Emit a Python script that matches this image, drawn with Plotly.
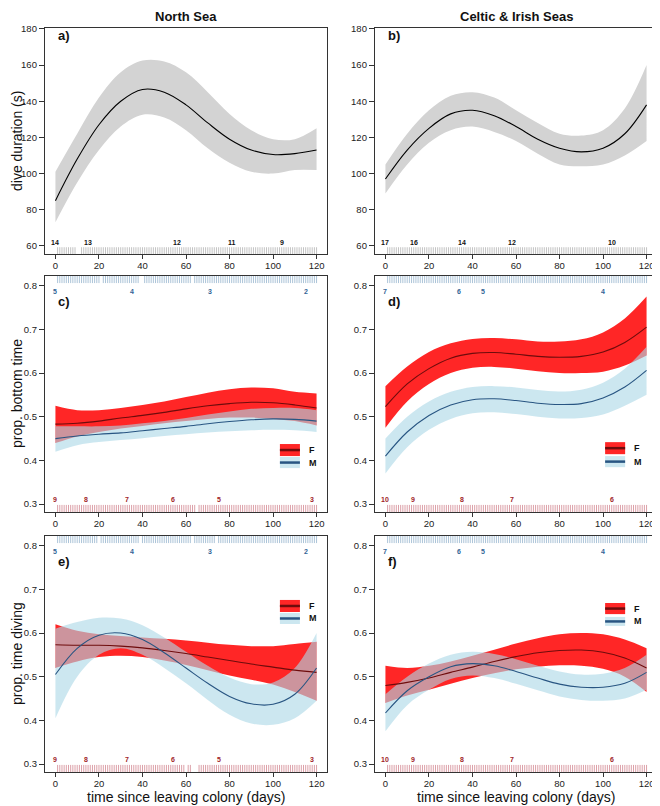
import plotly.graph_objects as go

# ---------------- data ----------------
days = [0, 10, 20, 30, 40, 50, 60, 70, 80, 90, 100, 110, 120]

# a) North Sea dive duration
ns_dur_fit = [85, 108, 127, 140, 146.5, 145, 138, 128, 119, 113, 110.5, 111, 113]
ns_dur_hi = [101, 122, 142, 156, 162.5, 162, 156, 145, 133, 124, 119, 119, 125]
ns_dur_lo = [73, 95, 113, 126, 132.5, 131, 124, 114, 106, 101, 100, 102, 102]
# b) Celtic & Irish Seas dive duration
ci_dur_fit = [97, 113, 125, 133, 135, 132, 126, 119, 114, 112, 114, 122, 138]
ci_dur_hi = [105, 122, 135, 143, 145, 142, 135, 128, 122, 121, 124, 136, 160]
ci_dur_lo = [89, 105, 117, 124, 126, 123, 118, 111, 105, 104, 105, 110, 118]

# c) North Sea prop. bottom time
ns_bt_f_fit = [0.483, 0.485, 0.49, 0.497, 0.503, 0.51, 0.518, 0.525, 0.53, 0.533, 0.532, 0.527, 0.52]
ns_bt_f_hi = [0.525, 0.515, 0.515, 0.52, 0.527, 0.535, 0.545, 0.555, 0.563, 0.567, 0.565, 0.557, 0.553]
ns_bt_f_lo = [0.44, 0.455, 0.465, 0.473, 0.479, 0.485, 0.49, 0.495, 0.498, 0.498, 0.495, 0.49, 0.48]
ns_bt_m_fit = [0.45, 0.456, 0.46, 0.463, 0.468, 0.473, 0.478, 0.484, 0.489, 0.493, 0.495, 0.494, 0.49]
ns_bt_m_hi = [0.478, 0.478, 0.478, 0.48, 0.485, 0.49, 0.497, 0.505, 0.512, 0.518, 0.52, 0.52, 0.515]
ns_bt_m_lo = [0.42, 0.435, 0.442, 0.447, 0.451, 0.456, 0.46, 0.464, 0.467, 0.469, 0.47, 0.469, 0.465]

# d) Celtic & Irish Seas prop. bottom time
ci_bt_f_fit = [0.523, 0.575, 0.61, 0.634, 0.645, 0.647, 0.643, 0.638, 0.636, 0.638, 0.648, 0.67, 0.705]
ci_bt_f_hi = [0.57, 0.615, 0.648, 0.668, 0.678, 0.68, 0.677, 0.672, 0.672, 0.677, 0.693, 0.725, 0.775]
ci_bt_f_lo = [0.475, 0.535, 0.575, 0.6, 0.612, 0.614, 0.61, 0.604, 0.6, 0.6, 0.603, 0.617, 0.64]
ci_bt_m_fit = [0.41, 0.465, 0.503, 0.527, 0.539, 0.541, 0.537, 0.531, 0.528, 0.53, 0.543, 0.568, 0.606]
ci_bt_m_hi = [0.45, 0.5, 0.535, 0.557, 0.568, 0.57, 0.567, 0.561, 0.558, 0.562, 0.578, 0.61, 0.66]
ci_bt_m_lo = [0.37, 0.43, 0.47, 0.495, 0.508, 0.51, 0.506, 0.5, 0.496, 0.497, 0.505, 0.525, 0.55]

# e) North Sea prop. time diving
ns_td_f_fit = [0.573, 0.572, 0.572, 0.57, 0.566, 0.56, 0.553, 0.545, 0.537, 0.529, 0.522, 0.515, 0.51]
ns_td_f_hi = [0.62, 0.605, 0.597, 0.593, 0.59, 0.587, 0.583, 0.578, 0.573, 0.57, 0.57, 0.575, 0.58]
ns_td_f_lo = [0.52, 0.535, 0.545, 0.548, 0.545, 0.537, 0.527, 0.515, 0.503, 0.493, 0.482, 0.465, 0.445]
ns_td_m_fit = [0.505, 0.565, 0.595, 0.6, 0.585, 0.555, 0.52, 0.485, 0.455, 0.438, 0.437, 0.46, 0.52]
ns_td_m_hi = [0.61, 0.625, 0.635, 0.633, 0.618, 0.59, 0.557, 0.525, 0.498, 0.483, 0.487, 0.52, 0.6]
ns_td_m_lo = [0.405, 0.5, 0.55, 0.565, 0.55, 0.52, 0.485, 0.447, 0.413, 0.393, 0.39, 0.405, 0.445]

# f) Celtic & Irish Seas prop. time diving
ci_td_f_fit = [0.48, 0.487, 0.497, 0.51, 0.522, 0.535, 0.546, 0.555, 0.56, 0.561, 0.556, 0.543, 0.52]
ci_td_f_hi = [0.525, 0.52, 0.525, 0.535, 0.548, 0.562, 0.576, 0.588, 0.597, 0.6, 0.597, 0.585, 0.565]
ci_td_f_lo = [0.44, 0.457, 0.47, 0.484, 0.497, 0.508, 0.517, 0.523, 0.526, 0.525, 0.518, 0.5, 0.465]
ci_td_m_fit = [0.417, 0.468, 0.5, 0.523, 0.53, 0.525, 0.512, 0.497, 0.483, 0.476, 0.476, 0.485, 0.51]
ci_td_m_hi = [0.46, 0.5, 0.53, 0.55, 0.557, 0.552, 0.54, 0.525, 0.512, 0.505, 0.507, 0.52, 0.55]
ci_td_m_lo = [0.375, 0.435, 0.47, 0.495, 0.503, 0.497, 0.484, 0.469, 0.455, 0.447, 0.445, 0.45, 0.47]

# rug: spans of days with data (first, last)
ns_dive_spans = [(1, 9), (12, 120)]
ci_dive_spans = [(1, 120)]
ns_m_bt_spans = [(1, 20), (22, 38), (41, 62), (64, 120)]
ns_f_bt_spans = [(1, 64), (66, 120)]
ns_m_td_spans = [(1, 19), (21, 38), (40, 62), (64, 73), (75, 120)]
ns_f_td_spans = [(1, 59), (61, 62), (66, 120)]
ci_m_spans = [(1, 120)]
ci_f_spans = [(1, 120)]

# sample sizes along the rugs
ns_dive_n_x = [0, 15, 56, 81, 104]
ns_dive_n = [14, 13, 12, 11, 9]
ci_dive_n_x = [0, 13, 35, 58, 104]
ci_dive_n = [17, 16, 14, 12, 10]
ns_m_n_x = [0, 35, 71, 115]
ns_m_n = [5, 4, 3, 2]
ns_f_n_x = [0, 14, 33, 54, 75, 118]
ns_f_n = [9, 8, 7, 6, 5, 3]
ci_m_n_x = [0, 34, 45, 100]
ci_m_n = [7, 6, 5, 4]
ci_f_n_x = [0, 12.6, 35, 58, 104]
ci_f_n = [10, 9, 8, 7, 6]

x_ticks = [0, 20, 40, 60, 80, 100, 120]
dur_ticks = [60, 80, 100, 120, 140, 160, 180]
prop_ticks = [0.3, 0.4, 0.5, 0.6, 0.7, 0.8]

# ---------------- styles / geometry ----------------
FONT = "Liberation Sans, Arial, sans-serif"
# the page places the figure 8px in from its top-left corner
OFF = 8
W, H = 660 - OFF, 806 - OFF


def px(x):
    return (x - OFF) / W


def py(y):
    return 1 - (y - OFF) / H


XR = [-4.8, 124.8]
DUR_R = [55.5, 180.5]
PROP_R = [0.282, 0.822]
GRAY_BAND = "rgb(211,211,211)"
RED_BAND = "rgb(255,38,38)"
BLUE_BAND = "rgba(173,216,230,0.62)"
F_LINE = "rgb(110,12,12)"
M_LINE = "rgb(40,85,130)"
GRAY_RUG = "rgb(195,195,195)"
BLUE_RUG = "rgb(172,196,216)"
RED_RUG = "rgb(220,160,168)"
BLUE_TXT = "rgb(50,100,150)"
RED_TXT = "rgb(160,35,40)"

fig = go.Figure()

XD = [[px(45), px(327)], [px(375), px(657)]]
YD = [[py(254), py(28)], [py(512), py(276)], [py(772), py(536)]]

panels = ["a)", "b)", "c)", "d)", "e)", "f)"]


def ax_names(i):
    s = "" if i == 1 else str(i)
    return "x" + s, "y" + s


def band(i, lo, hi, color):
    xa, ya = ax_names(i)
    fig.add_trace(go.Scatter(x=days, y=lo, mode="lines", line=dict(width=0, shape="spline", color=color),
                             xaxis=xa, yaxis=ya, showlegend=False, hoverinfo="skip"))
    fig.add_trace(go.Scatter(x=days, y=hi, mode="lines", line=dict(width=0, shape="spline", color=color),
                             fill="tonexty", fillcolor=color, xaxis=xa, yaxis=ya, showlegend=False,
                             hoverinfo="skip"))


def fitline(i, y, color, w=1.1):
    xa, ya = ax_names(i)
    fig.add_trace(go.Scatter(x=days, y=y, mode="lines", line=dict(width=w, shape="spline", color=color),
                             xaxis=xa, yaxis=ya, showlegend=False))


def rug(i, spans, yr, color, top=False):
    xa, ya = ax_names(i)
    span = yr[1] - yr[0]
    if top:
        y0, y1 = yr[1], yr[1] - 0.03 * span
    else:
        y0, y1 = yr[0], yr[0] + 0.03 * span
    xs, ys = [], []
    for a, b in spans:
        for d in range(a, b + 1):
            xs += [d, d, None]
            ys += [y0, y1, None]
    fig.add_trace(go.Scatter(x=xs, y=ys, mode="lines", line=dict(width=1, color=color),
                             xaxis=xa, yaxis=ya, showlegend=False, hoverinfo="skip"))


def ncount(i, xs, ns, color, ypos):
    xa, ya = ax_names(i)
    for x, n in zip(xs, ns):
        fig.add_annotation(x=x, y=ypos, xref=xa, yref=ya + " domain", text="<b>%d</b>" % n,
                           showarrow=False, font=dict(size=7, color=color, family=FONT),
                           xanchor="center", yanchor="middle")


def legend(i, xd, yf, ym):
    xa, ya = ax_names(i)
    for (yb, yt), fc, lc, lab in [(yf, RED_BAND, F_LINE, "F"), (ym, BLUE_BAND, M_LINE, "M")]:
        fig.add_shape(type="rect", xref=xa + " domain", yref=ya + " domain", x0=xd[0], x1=xd[1],
                      y0=yb, y1=yt, fillcolor=fc, line=dict(width=0), layer="above")
        fig.add_shape(type="line", xref=xa + " domain", yref=ya + " domain", x0=xd[0], x1=xd[1],
                      y0=(yb + yt) / 2, y1=(yb + yt) / 2, line=dict(width=2.5, color=lc), layer="above")
        fig.add_annotation(x=xd[1] + 0.025, y=(yb + yt) / 2, xref=xa + " domain", yref=ya + " domain",
                           text="<b>%s</b>" % lab, showarrow=False, xanchor="left", yanchor="middle",
                           font=dict(size=9, color="#111", family=FONT))


# a) & b)
band(1, ns_dur_lo, ns_dur_hi, GRAY_BAND)
fitline(1, ns_dur_fit, "black")
rug(1, ns_dive_spans, DUR_R, GRAY_RUG)
ncount(1, ns_dive_n_x, ns_dive_n, "#111", 0.052)

band(2, ci_dur_lo, ci_dur_hi, GRAY_BAND)
fitline(2, ci_dur_fit, "black")
rug(2, ci_dive_spans, DUR_R, GRAY_RUG)
ncount(2, ci_dive_n_x, ci_dive_n, "#111", 0.052)

# c)
band(3, ns_bt_f_lo, ns_bt_f_hi, RED_BAND)
band(3, ns_bt_m_lo, ns_bt_m_hi, BLUE_BAND)
fitline(3, ns_bt_f_fit, F_LINE)
fitline(3, ns_bt_m_fit, M_LINE)
rug(3, ns_m_bt_spans, PROP_R, BLUE_RUG, top=True)
rug(3, ns_f_bt_spans, PROP_R, RED_RUG)
ncount(3, ns_m_n_x, ns_m_n, BLUE_TXT, 0.935)
ncount(3, ns_f_n_x, ns_f_n, RED_TXT, 0.052)
legend(3, [0.833, 0.904], [0.237, 0.288], [0.186, 0.233])

# d)
band(4, ci_bt_f_lo, ci_bt_f_hi, RED_BAND)
band(4, ci_bt_m_lo, ci_bt_m_hi, BLUE_BAND)
fitline(4, ci_bt_f_fit, F_LINE)
fitline(4, ci_bt_m_fit, M_LINE)
rug(4, ci_m_spans, PROP_R, BLUE_RUG, top=True)
rug(4, ci_f_spans, PROP_R, RED_RUG)
ncount(4, ci_m_n_x, ci_m_n, BLUE_TXT, 0.935)
ncount(4, ci_f_n_x, ci_f_n, RED_TXT, 0.052)
legend(4, [0.816, 0.887], [0.245, 0.296], [0.19, 0.237])

# e)
band(5, ns_td_f_lo, ns_td_f_hi, RED_BAND)
band(5, ns_td_m_lo, ns_td_m_hi, BLUE_BAND)
fitline(5, ns_td_f_fit, F_LINE)
fitline(5, ns_td_m_fit, M_LINE)
rug(5, ns_m_td_spans, PROP_R, BLUE_RUG, top=True)
rug(5, ns_f_td_spans, PROP_R, RED_RUG)
ncount(5, ns_m_n_x, ns_m_n, BLUE_TXT, 0.935)
ncount(5, ns_f_n_x, ns_f_n, RED_TXT, 0.052)
legend(5, [0.833, 0.904], [0.678, 0.729], [0.627, 0.674])

# f)
band(6, ci_td_f_lo, ci_td_f_hi, RED_BAND)
band(6, ci_td_m_lo, ci_td_m_hi, BLUE_BAND)
fitline(6, ci_td_f_fit, F_LINE)
fitline(6, ci_td_m_fit, M_LINE)
rug(6, ci_m_spans, PROP_R, BLUE_RUG, top=True)
rug(6, ci_f_spans, PROP_R, RED_RUG)
ncount(6, ci_m_n_x, ci_m_n, BLUE_TXT, 0.935)
ncount(6, ci_f_n_x, ci_f_n, RED_TXT, 0.052)
legend(6, [0.816, 0.887], [0.669, 0.716], [0.619, 0.657])

# axes
layout = {}
for i in range(1, 7):
    row = (i - 1) // 2
    col = (i - 1) % 2
    s = "" if i == 1 else str(i)
    common = dict(showline=True, mirror=True, linecolor="#333", linewidth=1.3, ticks="outside",
                  tickcolor="#333", tickwidth=1, showgrid=False, zeroline=False,
                  automargin=False, tickfont=dict(size=9.5, color="#222", family=FONT))
    layout["xaxis" + s] = dict(domain=XD[col], range=XR, tickvals=x_ticks, anchor="y" + s, ticklen=4,
                               ticklabelstandoff=-2, **common)
    yr = DUR_R if row == 0 else PROP_R
    tv = dur_ticks if row == 0 else prop_ticks
    layout["yaxis" + s] = dict(domain=YD[row], range=yr, tickvals=tv, anchor="x" + s, ticklen=5, **common)
    ya = "y" + s
    ypos = 0.965 if row == 0 else 0.89
    fig.add_annotation(x=0.04, y=ypos, xref="x" + s + " domain", yref=ya + " domain",
                       text="<b>%s</b>" % panels[i - 1], showarrow=False, xanchor="left",
                       yanchor="middle", font=dict(size=13, color="#111", family=FONT))

fig.update_layout(**layout)

# titles (kept inside the figure's top edge)
for txt, xc in [("North Sea", 186), ("Celtic & Irish Seas", 516)]:
    fig.add_annotation(x=px(xc), y=1.0, xref="paper", yref="paper", text="<b>%s</b>" % txt,
                       showarrow=False, font=dict(size=13, color="#111", family=FONT),
                       xanchor="center", yanchor="top", borderpad=0)
    fig.add_annotation(x=px(xc), y=0.0, xref="paper", yref="paper",
                       text="time since leaving colony (days)", showarrow=False,
                       font=dict(size=14, color="#111", family=FONT), xanchor="center", yanchor="bottom",
                       borderpad=0)

for txt, yc in [("dive duration (s)", 141), ("prop. bottom time", 394), ("prop. time diving", 654)]:
    fig.add_annotation(x=0.0, y=py(yc), xref="paper", yref="paper", text=txt, textangle=-90,
                       showarrow=False, font=dict(size=14, color="#111", family=FONT),
                       xanchor="left", yanchor="middle", borderpad=0)

fig.update_layout(template="none", width=W, height=H, margin=dict(l=0, r=0, t=0, b=0),
                  plot_bgcolor="white", paper_bgcolor="white", showlegend=False, font=dict(family=FONT))

fig.write_html("out.html")
